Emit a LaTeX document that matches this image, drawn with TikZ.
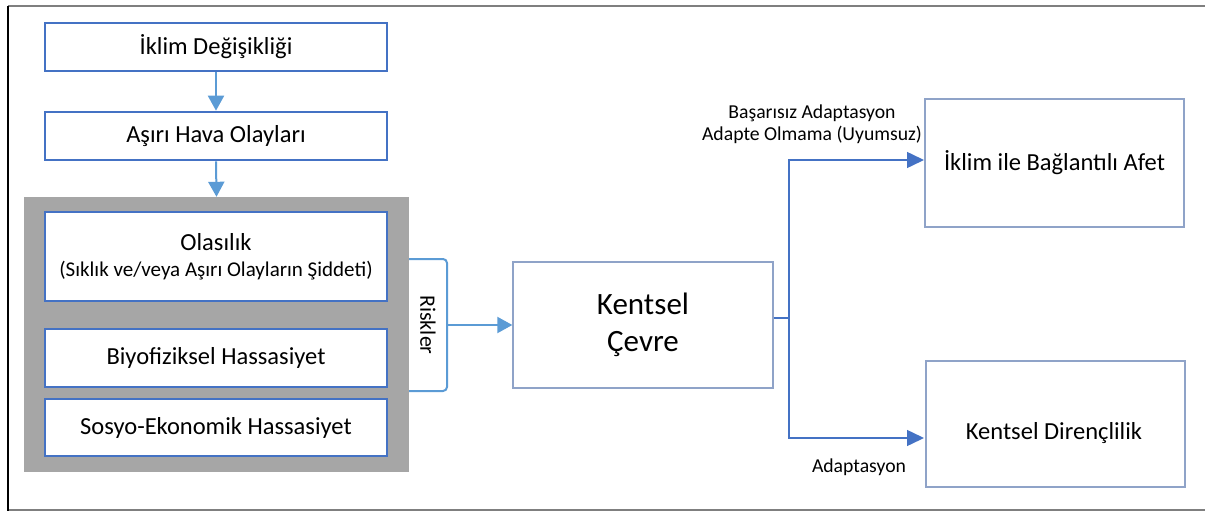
\documentclass[tikz,border=0pt]{standalone}
\usepackage{fontspec}
\setmainfont{Carlito}
\usetikzlibrary{arrows.meta}
\definecolor{boxblue}{HTML}{4472C4}
\definecolor{arrblue}{HTML}{5B9BD5}
\definecolor{thinbox}{HTML}{8FA3C8}
\definecolor{grayfill}{HTML}{A6A6A6}
\definecolor{framegray}{HTML}{7F7F7F}
\tikzset{
  leftbox/.style={draw=boxblue, line width=2.6pt, fill=white, rectangle, inner sep=0pt, align=center, font=\fontsize{24.5}{29}\selectfont},
  rightbox/.style={draw=thinbox, line width=1.3pt, fill=white, rectangle, inner sep=0pt, align=center},
  conn/.style={draw=arrblue, line width=2pt, -{Triangle[width=16pt,length=15pt]}},
  thinconn/.style={draw=boxblue, line width=1.5pt, -{Triangle[width=16pt,length=17pt]}},
  lbl/.style={inner sep=0pt, align=center, font=\fontsize{19.7}{22}\selectfont}
}
\begin{document}
\begin{tikzpicture}[x=1pt,y=-1pt]
\useasboundingbox (0,0) rectangle (1205,511);
% frame
\draw[framegray, line width=1.5pt] (8,6) -- (1205,6);
\draw[framegray, line width=1.5pt] (8,510) -- (1205,510);
\draw[black, line width=1.2pt] (8,6) -- (8,511);

\node[leftbox, minimum width=342pt, minimum height=48pt] (cc) at (216,47) {İklim Değişikliği};
\node[leftbox, minimum width=342pt, minimum height=48pt] (ext) at (216,136) {Aşırı Hava Olayları};
\node[fill=grayfill, rectangle, inner sep=0pt, minimum width=385pt, minimum height=275pt] (gray) at (216.5,334.5) {};
\node[leftbox, minimum width=342pt, minimum height=89pt, font=\fontsize{21}{26}\selectfont] (olas) at (216,256.5) {{\fontsize{24.5}{26}\selectfont Olasılık}\\(Sıklık ve/veya Aşırı Olayların Şiddeti)};
\node[leftbox, minimum width=342pt, minimum height=58pt] (bio) at (216,358) {Biyofiziksel Hassasiyet};
\node[leftbox, minimum width=342pt, minimum height=57pt] (sos) at (216,427.5) {Sosyo-Ekonomik Hassasiyet};

\draw[conn] (cc.south) -- (ext.north);
\draw[conn] (ext.south) -- (gray.north);

% bracket
\coordinate (bt) at (409,259);
\coordinate (bb) at (409,391);
\coordinate (bm) at (447,325);
\draw[arrblue, line width=2pt, rounded corners=4pt] (bt) -- (bt -| bm) -- (bb -| bm) -- (bb);
\node[rotate=-90, inner sep=0pt, font=\fontsize{22}{25}\selectfont] (risk) at (428,325) {Riskler};

\node[rightbox, minimum width=260pt, minimum height=126pt, font=\fontsize{31}{37}\selectfont] (kent) at (643,325) {Kentsel\\Çevre};
\draw[conn] (bm) -- (kent.west);

\node[rightbox, minimum width=259pt, minimum height=128pt, font=\fontsize{24.5}{29}\selectfont] (afet) at (1054.5,163) {İklim ile Bağlantılı Afet};
\node[rightbox, minimum width=259pt, minimum height=126pt] (dir) at (1055.5,424) {};
\node[inner sep=0pt, font=\fontsize{24.5}{29}\selectfont] (dirtxt) at (1054,433) {Kentsel Dirençlilik};

\coordinate (split) at (789,318);
\coordinate (topend) at (924,160);
\coordinate (botend) at (924,438);
\draw[boxblue, line width=1.5pt] (split -| kent.east) -- (split);
\draw[thinconn] (split) |- (topend);
\draw[thinconn] (split) |- (botend);

\node[lbl] (l1) at (812,113) {Başarısız Adaptasyon};
\node[lbl] (l2) at (812,135) {Adapte Olmama (Uyumsuz)};
\node[lbl] (l3) at (859,467) {Adaptasyon};
\end{tikzpicture}
\end{document}
